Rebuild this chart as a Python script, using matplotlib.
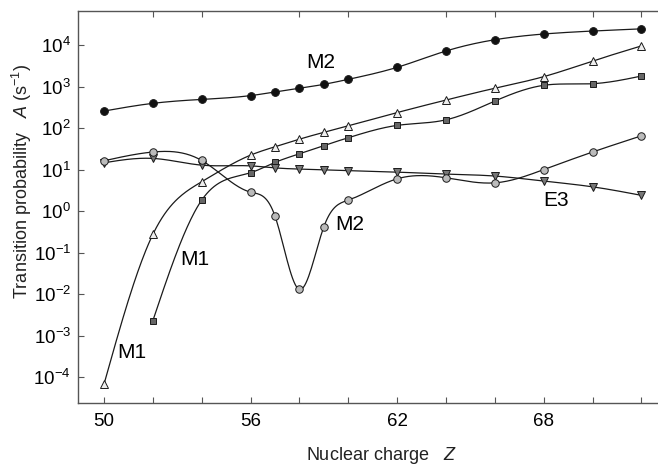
import numpy as np
import matplotlib
matplotlib.use("Agg")
import matplotlib.pyplot as plt
from matplotlib.ticker import FixedLocator, FuncFormatter

plt.rcParams['font.family'] = ['Liberation Sans', 'DejaVu Sans']
plt.rcParams['mathtext.fontset'] = 'custom'
plt.rcParams['mathtext.rm'] = 'Liberation Sans'
plt.rcParams['mathtext.it'] = 'Liberation Sans:italic'
plt.rcParams['mathtext.default'] = 'regular'
plt.rcParams['axes.unicode_minus'] = False

# ---- data ----
z_full = [50, 52, 54, 56, 57, 58, 59, 60, 62, 64, 66, 68, 70, 72]
m2_black = [257, 394, 490, 605, 740, 910, 1130, 1490, 2900, 7170, 13400, 18400, 21700, 24500]
m1_tri = [6.8e-5, 0.275, 5.1, 22.3, 35.5, 54, 79, 113, 236, 473, 910, 1730, 4100, 9500]
z_sq = [52, 54, 56, 57, 58, 59, 60, 62, 64, 66, 68, 70, 72]
m1_sq = [2.3e-3, 1.84, 8.4, 14.9, 24, 38, 58.5, 116, 158, 447, 1070, 1170, 1790]
e3_tri = [14.6, 18.6, 12.8, 12.3, 11.0, 10.3, 9.9, 9.5, 8.7, 7.8, 7.0, 5.3, 3.85, 2.4]
m2_gray = [16.3, 26.5, 16.6, 2.87, 0.76, 0.013, 0.42, 1.84, 6.0, 6.35, 4.8, 10, 26.5, 65]

xtick_major = [50, 56, 62, 68]
xtick_minor = [52, 54, 58, 60, 64, 66, 70, 72]
ytick_exps = [-4, -3, -2, -1, 0, 1, 2, 3, 4]


def natural_spline(x, y, xs):
    x = np.asarray(x, float)
    y = np.asarray(y, float)
    n = len(x)
    h = np.diff(x)
    A = np.zeros((n, n))
    b = np.zeros(n)
    A[0, 0] = 1
    A[-1, -1] = 1
    for i in range(1, n - 1):
        A[i, i - 1] = h[i - 1]
        A[i, i] = 2 * (h[i - 1] + h[i])
        A[i, i + 1] = h[i]
        b[i] = 6 * ((y[i + 1] - y[i]) / h[i] - (y[i] - y[i - 1]) / h[i - 1])
    M = np.linalg.solve(A, b)
    idx = np.clip(np.searchsorted(x, xs) - 1, 0, n - 2)
    x0, x1 = x[idx], x[idx + 1]
    hh = x1 - x0
    t0 = x1 - xs
    t1 = xs - x0
    return (M[idx] * t0 ** 3 / (6 * hh) + M[idx + 1] * t1 ** 3 / (6 * hh)
            + (y[idx] / hh - M[idx] * hh / 6) * t0
            + (y[idx + 1] / hh - M[idx + 1] * hh / 6) * t1)


fig = plt.figure(figsize=(6.58, 4.65), dpi=100)
ax = fig.add_axes([78 / 658, 1 - 403.3 / 465, 1 - 78 / 658, (403.3 - 11) / 465])

series = [
    (z_full, m2_black, 'o', '#111111', 5.6),
    (z_full, m1_tri, '^', '#eeeeee', 5.2),
    (z_sq, m1_sq, 's', '#666666', 4.6),
    (z_full, e3_tri, 'v', '#777777', 5.2),
    (z_full, m2_gray, 'o', '#bbbbbb', 5.4),
]
for zx, vals, mk, fc, ms in series:
    xs = np.linspace(zx[0], zx[-1], 400)
    ys = 10 ** natural_spline(zx, np.log10(vals), xs)
    ax.plot(xs, ys, color='#1a1a1a', lw=0.9, zorder=2)
    ax.plot(zx, vals, linestyle='none', marker=mk, ms=ms, mfc=fc,
            mec='#1a1a1a', mew=0.7, zorder=3)

ax.set_yscale('log')
ax.set_xlim(48.936, 72.68)
ax.set_ylim(10 ** -4.627, 10 ** 4.819)

ax.yaxis.set_major_locator(FixedLocator([10.0 ** e for e in ytick_exps]))
ax.yaxis.set_minor_locator(FixedLocator([]))
ax.yaxis.set_major_formatter(FuncFormatter(
    lambda v, p: r'$10^{%d}$' % int(round(np.log10(v)))))
ax.xaxis.set_major_locator(FixedLocator(xtick_major))
ax.xaxis.set_minor_locator(FixedLocator(xtick_minor))

for s in ['top', 'bottom', 'left']:
    ax.spines[s].set_color('#555555')
    ax.spines[s].set_linewidth(1.0)
ax.spines['right'].set_visible(False)

ax.tick_params(axis='y', which='major', direction='in', length=4.5, width=0.8,
               color='#555555', labelsize=13.5, pad=5, right=False)
ax.tick_params(axis='x', which='both', direction='in', length=4, width=0.8,
               color='#555555', labelsize=13.5, pad=7)
ax.tick_params(axis='x', which='major', top=False)
ax.tick_params(axis='x', which='minor', top=True)

ax.text(58.88, 3690, 'M2', fontsize=15, ha='center', va='center')
ax.text(60.07, 0.465, 'M2', fontsize=15, ha='center', va='center')
ax.text(53.72, 0.0667, 'M1', fontsize=15, ha='center', va='center')
ax.text(51.13, 3.85e-4, 'M1', fontsize=15, ha='center', va='center')
ax.text(68.52, 1.76, 'E3', fontsize=15, ha='center', va='center')

fig.text(381 / 658, 1 - 455 / 465, r'Nuclear charge   $\it{Z}$', fontsize=13,
         ha='center', va='center', color='#222222')
fig.text(22 / 658, 1 - 181 / 465, r'Transition probability   $\it{A}$ (s$^{-1}$)',
         fontsize=13, ha='center', va='center', rotation=90, color='#222222')

fig.savefig('out.png', dpi=100)
